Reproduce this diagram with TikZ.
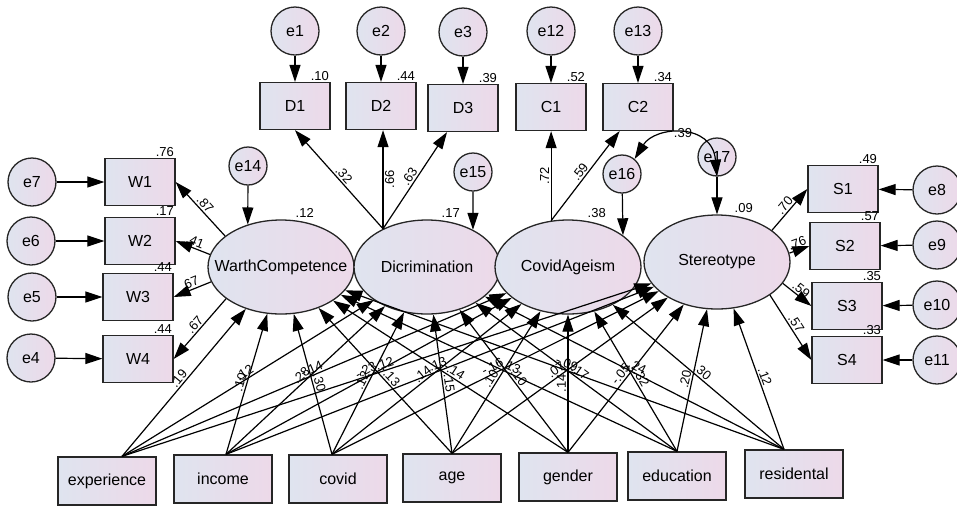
\documentclass[tikz,border=0pt]{standalone}
\usepackage{fontspec}
\setmainfont{Liberation Sans}
\usetikzlibrary{shapes.geometric,arrows.meta}

\definecolor{fillL}{HTML}{DFE4EF}
\definecolor{fillR}{HTML}{EDD9E9}

\tikzset{
  amos/.style={draw=black!85, line width=1.3pt, left color=fillL, right color=fillR,
    font=\fontsize{16}{18}\selectfont, inner sep=0pt},
  obsbox/.style={amos, rectangle, minimum width=70pt, minimum height=47pt},
  exobox/.style={amos, rectangle, minimum width=98pt, minimum height=48pt},
  errc/.style={amos, circle, minimum size=48pt},
  errs/.style={amos, circle, minimum size=38pt},
  latent/.style={amos, ellipse, minimum width=146pt, minimum height=94pt},
  arr/.style={-{Triangle[length=17pt,width=11pt]}, line width=1.2pt},
  covarr/.style={{Triangle[length=17pt,width=11pt]}-{Triangle[length=17pt,width=11pt]}, line width=1.2pt},
  est/.style={font=\fontsize{13}{15}\selectfont, inner sep=1.5pt}
}

\begin{document}
\begin{tikzpicture}[x=1pt,y=-1pt]
\useasboundingbox (0,0) rectangle (957,507);

% latent variables
\node[latent] (WC) at (281,267) {\makebox[0pt]{WarthCompetence}};
\node[latent] (DI) at (427,267) {\makebox[0pt]{Dicrimination}};
\node[latent] (CA) at (568,267) {\makebox[0pt]{CovidAgeism}};
\node[latent] (ST) at (717,262) {\makebox[0pt]{Stereotype}};

% indicators on top
\node[obsbox] (D1) at (295,106) {D1};
\node[obsbox] (D2) at (381,106) {D2};
\node[obsbox] (D3) at (463,108) {D3};
\node[obsbox] (C1) at (551,107) {C1};
\node[obsbox] (C2) at (638,107) {C2};
\node[errc] (e1) at (295,31) {e1};
\node[errc] (e2) at (381,31) {e2};
\node[errc] (e3) at (463,32) {e3};
\node[errc] (e12) at (551,31) {e12};
\node[errc] (e13) at (638,31) {e13};
\draw[arr] (e1) -- (D1);
\draw[arr] (e2) -- (D2);
\draw[arr] (e3) -- (D3);
\draw[arr] (e12) -- (C1);
\draw[arr] (e13) -- (C2);
\node[est, anchor=south east] (rD1) at (D1.north east) {.10};
\node[est, anchor=south east] (rD2) at (D2.north east) {.44};
\node[est, anchor=south east] (rD3) at (D3.north east) {.39};
\node[est, anchor=south east] (rC1) at (C1.north east) {.52};
\node[est, anchor=south east] (rC2) at (C2.north east) {.34};

% indicators on the left
\node[obsbox] (W1) at (140,182) {W1};
\node[obsbox] (W2) at (140,241) {W2};
\node[obsbox] (W3) at (138,297) {W3};
\node[obsbox] (W4) at (138,359) {W4};
\node[errc] (e7) at (32,182) {e7};
\node[errc] (e6) at (31,241) {e6};
\node[errc] (e5) at (32,297) {e5};
\node[errc] (e4) at (31,358) {e4};
\draw[arr] (e7) -- (W1);
\draw[arr] (e6) -- (W2);
\draw[arr] (e5) -- (W3);
\draw[arr] (e4) -- (W4);
\node[est, anchor=south east] (rW1) at (W1.north east) {.76};
\node[est, anchor=south east] (rW2) at (W2.north east) {.17};
\node[est, anchor=south east] (rW3) at (W3.north east) {.44};
\node[est, anchor=south east] (rW4) at (W4.north east) {.44};

% indicators on the right
\node[obsbox] (S1) at (843,189) {S1};
\node[obsbox] (S2) at (845,246) {S2};
\node[obsbox] (S3) at (847,306) {S3};
\node[obsbox] (S4) at (847,360) {S4};
\node[errc] (e8) at (937,190) {e8};
\node[errc] (e9) at (937,245) {e9};
\node[errc] (e10) at (937,305) {e10};
\node[errc] (e11) at (937,360) {e11};
\draw[arr] (e8) -- (S1);
\draw[arr] (e9) -- (S2);
\draw[arr] (e10) -- (S3);
\draw[arr] (e11) -- (S4);
\node[est, anchor=south east] (rS1) at (S1.north east) {.49};
\node[est, anchor=south east] (rS2) at (S2.north east) {.57};
\node[est, anchor=south east] (rS3) at (S3.north east) {.35};
\node[est, anchor=south east] (rS4) at (S4.north east) {.33};

% loadings
\draw[arr] (WC.151) -- node[est, sloped, above] {.87} (W1.east);
\draw[arr] (WC.170) -- node[est, sloped, above] {.41} (W2.east);
\draw[arr] (WC.192) -- node[est, sloped, above] {.67} (W3.east);
\draw[arr] (WC.210) -- node[est, sloped, above] {.67} (W4.east);
\draw[arr] (DI.139) -- node[est, sloped, above] {.32} (D1.south);
\draw[arr] (DI.139) -- node[est, sloped, below] {.66} (DI.139 |- D2.south);
\draw[arr] (DI.139) -- node[est, sloped, above] {.63} (D3);
\draw[arr] (CA.110) -- node[est, sloped, above] {.72} (CA.110 |- C1.south);
\draw[arr] (CA.110) -- node[est, sloped, above] {.59} (C2);
\draw[arr] (ST.30) -- node[est, sloped, above] {.70} (S1.west);
\draw[arr] (ST.7) -- node[est, sloped, above] {.76} (S2.west);
\draw[arr] (ST.342) -- node[est, sloped, above] {.59} (S3.west);
\draw[arr] (ST.328) -- node[est, sloped, above] {.57} (S4.west);

% residuals of the latents
\node[errs] (e14) at (248,166) {e14};
\node[errs] (e15) at (473,172) {e15};
\node[errs] (e16) at (622,174) {e16};
\node[errs] (e17) at (717,157) {e17};
\draw[arr] (e14) -- (WC.128);
\draw[arr] (e15) -- (DI.39);
\draw[arr] (e16) -- (CA.30);
\draw[arr] (e17) -- (ST);
\draw[covarr] (e16.50) .. controls (655,126) and (712,122) .. (e17.south);
\node[est] (r39) at (683,133) {.39};
\node[est, anchor=south west] (rWC) at ([xshift=13pt]WC.north) {.12};
\node[est, anchor=south west] (rDI) at ([xshift=13pt]DI.north) {.17};
\node[est, anchor=south west] (rCA) at ([xshift=18pt]CA.north) {.38};
\node[est, anchor=south west] (rST) at ([xshift=16pt]ST.north) {.09};

% covariates
\node[exobox] (exp) at (107,481) {experience};
\node[exobox] (inc) at (223,479) {income};
\node[exobox] (cov) at (338,479) {covid};
\node[exobox] (age) at (452,478) {age};
\node[exobox] (gen) at (568,477) {gender};
\node[exobox] (edu) at (677,476) {education};
\node[exobox] (res) at (794,474) {residental};

\draw[arr] ([xshift=15pt]exp.north) -- node[est, sloped, above] {.19} (WC);
\draw[arr] ([xshift=15pt]exp.north) -- node[est, sloped, above] {.12} (DI);
\draw[arr] ([xshift=15pt]exp.north) -- node[est, sloped, above] {-.14} (CA);
\draw[arr] ([xshift=15pt]exp.north) -- node[est, sloped, above] {.12} (ST);
\draw[arr] ([xshift=3pt]inc.north) -- node[est, sloped, above] {.10} (WC);
\draw[arr] ([xshift=3pt]inc.north) -- node[est, sloped, above] {.28} (DI);
\draw[arr] ([xshift=3pt]inc.north) -- node[est, sloped, above] {-.23} (CA);
\draw[arr] ([xshift=3pt]inc.north) -- node[est, sloped, above] {.13} (ST);
\draw[arr] ([xshift=-6pt]cov.north) -- node[est, sloped, above] {.30} (WC);
\draw[arr] ([xshift=-6pt]cov.north) -- node[est, sloped, above] {.12} (DI);
\draw[arr] ([xshift=-6pt]cov.north) -- node[est, sloped, above] {.14} (CA);
\draw[arr] ([xshift=-6pt]cov.north) -- node[est, sloped, above] {-.16} (ST);
\draw[arr] (age.north) -- node[est, sloped, above] {-.13} (WC);
\draw[arr] (age.north) -- node[est, sloped, above] {.15} (DI);
\draw[arr] (age.north) -- node[est, sloped, above] {.10} (CA);
\draw[arr] (age.north) -- node[est, sloped, above] {.07} (ST);
\draw[arr] (gen.north) -- node[est, sloped, above] {-.14} (WC);
\draw[arr] (gen.north) -- node[est, sloped, above] {.10} (DI);
\draw[arr] (gen.north) -- node[est, sloped, above] {.14} (CA);
\draw[arr] (gen.north) -- node[est, sloped, above] {-.05} (ST);
\draw[arr] (edu.north) -- node[est, sloped, above] {.13} (WC);
\draw[arr] (edu.north) -- node[est, sloped, above] {.17} (DI);
\draw[arr] (edu.north) -- node[est, sloped, above] {.32} (CA);
\draw[arr] (edu.north) -- node[est, sloped, above] {.20} (ST);
\draw[arr] ([xshift=-10pt]res.north) -- node[est, sloped, above] {-.09} (WC);
\draw[arr] ([xshift=-10pt]res.north) -- node[est, sloped, above] {.24} (DI);
\draw[arr] ([xshift=-10pt]res.north) -- node[est, sloped, above] {.30} (CA);
\draw[arr] ([xshift=-10pt]res.north) -- node[est, sloped, above] {.12} (ST);

\end{tikzpicture}
\end{document}
